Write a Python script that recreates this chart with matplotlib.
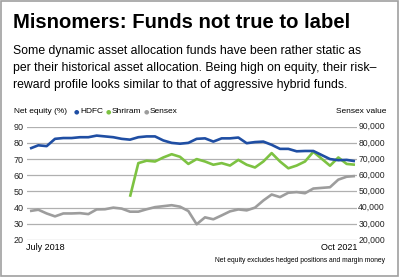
import matplotlib
matplotlib.use("Agg")
import matplotlib.pyplot as plt
from matplotlib.patches import Rectangle
from matplotlib.transforms import blended_transform_factory
import numpy as np

# monthly, July 2018 .. Oct 2021
months = np.arange(40)
hdfc = [76.5, 78.5, 78, 82.5, 83, 83, 83.5, 83.5, 84.5, 84,
        83.5, 82.5, 82, 83.5, 84, 84, 81.5, 80, 79.5, 80,
        82.5, 82.8, 80.8, 82.8, 82.8, 83.3, 79.8, 80.5, 80.8, 78.8,
        76.3, 76.3, 74.8, 75, 75, 72.5, 70, 69.3, 69.5, 68.7]
shriram = [None] * 12 + [46.7, 67.5, 69, 68.5, 71, 73, 71.4, 67,
                          70, 68.5, 66.5, 67.5, 66, 69.5, 66.5, 64.8, 68.5, 73.7,
                          68.5, 64.3, 66, 68.5, 74.5, 70.2, 65.9, 71, 67, 66.5]
sensex = [37.9, 38.7, 36.4, 34.6, 36.4, 36.4, 36.6, 36, 38.9, 39,
          40, 39.4, 37.5, 37.5, 39, 40.3, 40.9, 41.5, 40.6, 37.9,
          29.7, 34, 32.8, 35.2, 37.7, 38.9, 38.3, 40, 44.4, 48.1,
          46.5, 49.2, 49.6, 48.9, 51.8, 52.2, 52.6, 57.3, 59.1, 59.5]  # thousands
left_ticks = [20, 30, 40, 50, 60, 70, 80, 90]
right_labels = ["20,000", "30,000", "40,000", "50,000", "60,000", "70,000", "80,000", "90,000"]

blue = "#1f4ea3"
green = "#7dc242"
grey = "#9d9d9d"
plt.rcParams['font.family'] = ['Liberation Sans', 'DejaVu Sans']

W, H = 400, 278
fig = plt.figure(figsize=(4, 2.78), dpi=100)
renderer = fig.canvas.get_renderer()

def fx(px):
    return px / W

def fy(py):
    return 1 - py / H

def fit(t, width_px):
    # shrink/grow the font so the text spans width_px pixels
    w = t.get_window_extent(renderer=renderer).width
    t.set_fontsize(t.get_fontsize() * width_px / w)
    return t

# outer frame
fig.patches.append(Rectangle((fx(1), fy(276)), fx(397), 275 / H, transform=fig.transFigure,
                             fill=False, edgecolor="#a0a0a0", linewidth=1.2))

fit(fig.text(fx(13), fy(23), "Misnomers: Funds not true to label", fontsize=16,
             fontweight="bold", va="center", ha="left"), 337)
sub = ["Some dynamic asset allocation funds have been rather static as",
       "per their historical asset allocation. Being high on equity, their risk\u2013",
       "reward profile looks similar to that of aggressive hybrid funds."]
t0 = fit(fig.text(fx(13), fy(51), sub[0], fontsize=9, va="center", ha="left"), 350)
for i, line in enumerate(sub[1:]):
    fig.text(fx(13), fy(68 + 17 * i), line, fontsize=t0.get_fontsize(), va="center", ha="left")

ax = fig.add_axes([fx(27), fy(240), fx(330), (240 - 126.7) / H])
ax.set_xlim(-0.36, 39.24)
ax.set_ylim(20, 90)
for v in left_ticks:
    ax.axhline(v, color="#b0b0b0", linewidth=0.9, zorder=1)
ax.plot(months, sensex, color=grey, linewidth=1.9, zorder=3, solid_capstyle="butt")
sh = np.array([np.nan if v is None else v for v in shriram])
ax.plot(months, sh, color=green, linewidth=1.9, zorder=4, solid_capstyle="butt")
ax.plot(months, hdfc, color=blue, linewidth=1.9, zorder=5, solid_capstyle="butt")
for s in ax.spines.values():
    s.set_visible(False)
ax.set_xticks([])
ax.set_yticks(left_ticks)
ax.set_yticklabels([str(v) for v in left_ticks], fontsize=6.5, color="#222222")
ax.tick_params(axis="y", length=0, pad=2.5)
ax.patch.set_visible(False)

# right-hand Sensex scale shares the gridlines
tr = blended_transform_factory(fig.transFigure, ax.transData)
for v, lab in zip(left_ticks, right_labels):
    ax.text(fx(385), v, lab, transform=tr, fontsize=6.2, color="#222222",
            ha="right", va="center")

leg_fs = 6.0
fig.text(fx(14), fy(112), "Net equity (%)", fontsize=leg_fs, va="center", ha="left")
xpos = 76.7
for col, name in [(blue, "HDFC"), (green, "Shriram"), (grey, "Sensex")]:
    fig.text(fx(xpos), fy(112), "\u25cf", fontsize=4.5, color=col, va="center", ha="center",
             family="DejaVu Sans")
    t = fig.text(fx(xpos + 3.5), fy(112), name, fontsize=leg_fs, va="center", ha="left")
    xpos += 3.5 + t.get_window_extent(renderer=renderer).width + 5
fig.text(fx(386), fy(112), "Sensex value", fontsize=leg_fs, va="center", ha="right")

fig.text(fx(26), fy(248), "July 2018", fontsize=6.5, va="center", ha="left")
fig.text(fx(357), fy(248), "Oct 2021", fontsize=6.5, va="center", ha="right")
fit(fig.text(fx(385), fy(261), "Net equity excludes hedged positions and margin money",
             fontsize=6, va="center", ha="right"), 173)

fig.savefig("out.png", dpi=100)
